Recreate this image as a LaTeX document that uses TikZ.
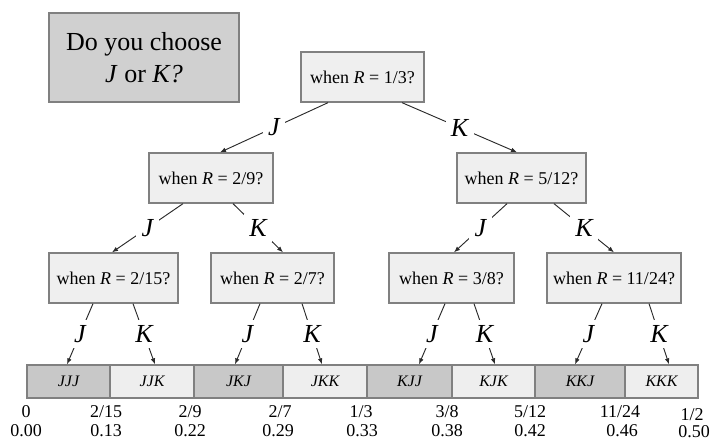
\documentclass[tikz,border=0pt]{standalone}
\usepackage{fontspec}
\setmainfont{Liberation Serif}
\usetikzlibrary{arrows.meta}
\definecolor{boxline}{HTML}{808080}
\definecolor{titlefill}{HTML}{D0D0D0}
\definecolor{qfill}{HTML}{EFEFEF}
\definecolor{darkcell}{HTML}{C8C8C8}
\definecolor{lightcell}{HTML}{EEEEEE}
\definecolor{arrowline}{HTML}{2A2A2A}
\begin{document}
\begin{tikzpicture}[x=0.75pt,y=-0.75pt,
  titlebox/.style={draw=boxline, line width=1pt, fill=titlefill, minimum width={190*0.75pt}, minimum height={89*0.75pt}, align=center, font=\fontsize{19.5}{24}\selectfont, inner sep=0pt},
  qbox/.style={draw=boxline, line width=1pt, fill=qfill, minimum height={50*0.75pt}, font=\fontsize{13.5}{16}\selectfont, inner sep=0pt},
  cell/.style={draw=boxline, line width=1pt, minimum height={33*0.75pt}, font=\fontsize{12}{14}\selectfont\itshape, inner sep=0pt},
  dcell/.style={cell, fill=darkcell},
  lcell/.style={cell, fill=lightcell},
  arr/.style={draw=arrowline, line width=0.7pt, -{Latex[length=4.5pt,width=3.5pt]}},
  lab/.style={midway, fill=white, inner sep=4pt, font=\fontsize{19.5}{22}\selectfont\itshape},
  num/.style={font=\fontsize{13.5}{16}\selectfont, inner sep=0pt}
]
\useasboundingbox (0,0) rectangle (717,441);

\node[titlebox] (title) at (144,57.5) {Do you choose\\\textit{J} or \textit{K?}};

\node[qbox, minimum width={123*0.75pt}] (root) at (362.5,77) {when \textit{R} = 1/3?};
\node[qbox, minimum width={124*0.75pt}] (l2a) at (211,178) {when \textit{R} = 2/9?};
\node[qbox, minimum width={129*0.75pt}] (l2b) at (521.5,178) {when \textit{R} = 5/12?};
\node[qbox, minimum width={129*0.75pt}] (l3a) at (113.5,278) {when \textit{R} = 2/15?};
\node[qbox, minimum width={123*0.75pt}] (l3b) at (272.5,278) {when \textit{R} = 2/7?};
\node[qbox, minimum width={125*0.75pt}] (l3c) at (451.5,278) {when \textit{R} = 3/8?};
\node[qbox, minimum width={134*0.75pt}] (l3d) at (614,278) {when \textit{R} = 11/24?};

% bottom cells
\node[dcell, minimum width={83*0.75pt}] (c1) at (68.5,381.5) {JJJ};
\node[lcell, minimum width={84*0.75pt}] (c2) at (152,381.5) {JJK};
\node[dcell, minimum width={89*0.75pt}] (c3) at (238.5,381.5) {JKJ};
\node[lcell, minimum width={84*0.75pt}] (c4) at (325,381.5) {JKK};
\node[dcell, minimum width={85*0.75pt}] (c5) at (409.5,381.5) {KJJ};
\node[lcell, minimum width={83*0.75pt}] (c6) at (493.5,381.5) {KJK};
\node[dcell, minimum width={90*0.75pt}] (c7) at (580,381.5) {KKJ};
\node[lcell, minimum width={73*0.75pt}] (c8) at (661.5,381.5) {KKK};

% connectors
\draw[arr] ([xshift={-34.5*0.75pt}]root.south) -- node[lab] {J} ([xshift={9*0.75pt}]l2a.north);
\draw[arr] ([xshift={39.5*0.75pt}]root.south) -- node[lab] {K} ([xshift={-4.5*0.75pt}]l2b.north);

\draw[arr] ([xshift={-28*0.75pt}]l2a.south) -- node[lab] {J} ([xshift={-1.5*0.75pt}]l3a.north);
\draw[arr] ([xshift={22*0.75pt}]l2a.south) -- node[lab] {K} ([xshift={10.5*0.75pt}]l3b.north);
\draw[arr] ([xshift={-14.5*0.75pt}]l2b.south) -- node[lab] {J} ([xshift={2.5*0.75pt}]l3c.north);
\draw[arr] ([xshift={32.5*0.75pt}]l2b.south) -- node[lab] {K} (l3d.north);

\draw[arr] ([xshift={-20.5*0.75pt}]l3a.south) -- node[lab] {J} ([xshift={-1.5*0.75pt}]c1.north);
\draw[arr] ([xshift={19.5*0.75pt}]l3a.south) -- node[lab] {K} ([xshift={3*0.75pt}]c2.north);
\draw[arr] ([xshift={-12.5*0.75pt}]l3b.south) -- node[lab] {J} ([xshift={-3.5*0.75pt}]c3.north);
\draw[arr] ([xshift={29.5*0.75pt}]l3b.south) -- node[lab] {K} ([xshift={-3*0.75pt}]c4.north);
\draw[arr] ([xshift={-6.5*0.75pt}]l3c.south) -- node[lab] {J} ([xshift={9.5*0.75pt}]c5.north);
\draw[arr] ([xshift={22.5*0.75pt}]l3c.south) -- node[lab] {K} ([xshift={1.5*0.75pt}]c6.north);
\draw[arr] ([xshift={-12*0.75pt}]l3d.south) -- node[lab] {J} ([xshift={-5*0.75pt}]c7.north);
\draw[arr] ([xshift={35*0.75pt}]l3d.south) -- node[lab] {K} ([xshift={7.5*0.75pt}]c8.north);

% scale labels
\node[num] (f0) at (26,412) {0};
\node[num] (d0) at (26,431) {0.00};
\node[num] (f1) at (106,412) {2/15};
\node[num] (d1) at (106,431) {0.13};
\node[num] (f2) at (190,412) {2/9};
\node[num] (d2) at (190,431) {0.22};
\node[num] (f3) at (280,412) {2/7};
\node[num] (d3) at (278,431) {0.29};
\node[num] (f4) at (361,412) {1/3};
\node[num] (d4) at (362,431) {0.33};
\node[num] (f5) at (447,412) {3/8};
\node[num] (d5) at (447,431) {0.38};
\node[num] (f6) at (530,412) {5/12};
\node[num] (d6) at (530,431) {0.42};
\node[num] (f7) at (620,412) {11/24};
\node[num] (d7) at (622,431) {0.46};
\node[num] (f8) at (692,415) {1/2};
\node[num] (d8) at (694,432) {0.50};
\end{tikzpicture}
\end{document}
